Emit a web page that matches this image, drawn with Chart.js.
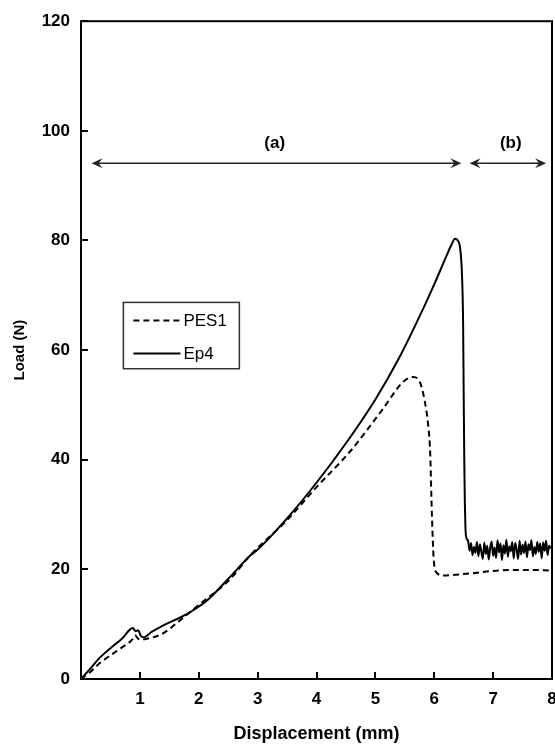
<!DOCTYPE html>
<html>
<head>
<meta charset="utf-8">
<script src="https://cdn.jsdelivr.net/npm/chart.js@4.4.0/dist/chart.umd.min.js"></script>
<style>
html, body { margin: 0; padding: 0; overflow: hidden; background: #fff; }
</style>
</head>
<body>
<canvas id="c" width="575" height="746"></canvas>
<script>
// Data (displacement in mm, load in N)
const pesX = [0, 0.15, 0.32, 0.5, 0.7, 0.88, 0.92, 0.95, 1.0, 1.1, 1.39, 1.68, 2.0, 2.53, 2.87, 3.5, 4.0, 4.57, 5.13, 5.47, 5.64, 5.75, 5.84, 5.9, 5.93, 5.96, 5.99, 6.04, 6.15, 6.55, 7.11, 7.6, 8.0];
const pesY = [0, 1.2, 2.9, 4.3, 5.8, 7.3, 8.0, 7.6, 7.2, 7.3, 8.3, 10.7, 13.5, 18.2, 22.5, 29, 35, 41.5, 49.3, 54.2, 55.1, 54.3, 50.6, 46, 41.5, 30, 22, 19.4, 18.9, 19.2, 19.8, 19.9, 19.8];

const epX = [0, 0.15, 0.32, 0.5, 0.7, 0.88, 0.93, 0.97, 1.02, 1.06, 1.2, 1.4, 1.68, 1.9, 2.14, 2.53, 2.87, 3.0, 3.5, 4.0, 4.5, 5.0, 5.4, 5.7, 6.0, 6.2, 6.3, 6.35, 6.4, 6.44, 6.47, 6.49, 6.5, 6.51, 6.52, 6.53, 6.55,
  6.575, 6.6, 6.625, 6.65, 6.675, 6.7, 6.725, 6.75, 6.775, 6.8, 6.825, 6.85, 6.875, 6.9, 6.925, 6.95, 6.975, 7.0, 7.025, 7.05,
  7.075, 7.1, 7.125, 7.15, 7.175, 7.2, 7.225, 7.25, 7.275, 7.3, 7.325, 7.35, 7.375, 7.4, 7.425, 7.45, 7.475, 7.5, 7.525, 7.55,
  7.575, 7.6, 7.625, 7.65, 7.675, 7.7, 7.725, 7.75, 7.775, 7.8, 7.825, 7.85, 7.875, 7.9, 7.925, 7.95, 7.975, 8.0];
const epY = [0, 1.8, 3.9, 5.6, 7.4, 9.3, 8.7, 8.9, 7.8, 7.6, 8.6, 9.8, 11.2, 12.5, 14.3, 18.6, 22.5, 23.6, 29.3, 35.8, 43, 51, 58.5, 65, 72, 77, 79.4, 80.3, 80, 78.5, 74, 65, 52, 40, 32, 27.5, 25.6,
  25.2, 23.4, 24.8, 22.6, 24.1, 23.0, 25.0, 22.4, 24.6, 23.2, 21.9, 24.9, 22.8, 24.3, 21.8, 23.9, 25.1, 22.5, 24.0, 22.1,
  25.3, 23.1, 24.7, 21.7, 24.4, 22.9, 25.4, 22.3, 24.2, 23.3, 25.0, 22.0, 24.8, 23.6, 21.9, 25.2, 22.7, 24.5, 23.0, 25.1,
  22.2, 24.6, 23.5, 25.3, 22.4, 24.1, 22.8, 25.0, 23.2, 24.7, 22.0, 24.9, 23.4, 25.2, 22.6, 24.3, 23.8];

const seriesNames = ["PES1", "Ep4"];
const xTicks = [1, 2, 3, 4, 5, 6, 7, 8];
const yTicks = [0, 20, 40, 60, 80, 100, 120];

const FONT = "'Liberation Sans', Arial, sans-serif";

function pts(xs, ys) {
  return xs.map((x, i) => ({ x: x, y: ys[i] }));
}

// arrowhead with a notch, pointing in direction dir (+1 right, -1 left)
function arrowHead(ctx, x, y, dir) {
  ctx.beginPath();
  ctx.moveTo(x, y);
  ctx.lineTo(x - dir * 11, y - 5);
  ctx.lineTo(x - dir * 7, y);
  ctx.lineTo(x - dir * 11, y + 5);
  ctx.closePath();
  ctx.fill();
}

function doubleArrow(ctx, x1, x2, y) {
  ctx.beginPath();
  ctx.moveTo(x1 + 4, y);
  ctx.lineTo(x2 - 4, y);
  ctx.stroke();
  arrowHead(ctx, x1, y, -1);
  arrowHead(ctx, x2, y, 1);
}

const extras = {
  id: "extras",
  afterDatasetsDraw(chart) {
    const ctx = chart.ctx;
    const a = chart.chartArea;
    const xs = chart.scales.x, ys = chart.scales.y;
    ctx.save();

    // frame
    ctx.strokeStyle = "#000";
    ctx.lineWidth = 2;
    ctx.strokeRect(a.left, a.top, a.right - a.left, a.bottom - a.top);

    // inward tick marks
    ctx.beginPath();
    xTicks.forEach(v => {
      const px = Math.round(xs.getPixelForValue(v));
      ctx.moveTo(px, a.bottom);
      ctx.lineTo(px, a.bottom - 7);
    });
    yTicks.forEach(v => {
      const py = Math.round(ys.getPixelForValue(v));
      ctx.moveTo(a.left, py);
      ctx.lineTo(a.left + 7, py);
    });
    ctx.stroke();

    // (a) / (b) region arrows
    ctx.strokeStyle = "#222";
    ctx.fillStyle = "#222";
    ctx.lineWidth = 1.6;
    const ay = ys.getPixelForValue(94.1);
    doubleArrow(ctx, xs.getPixelForValue(0.18), xs.getPixelForValue(6.46), ay);
    doubleArrow(ctx, xs.getPixelForValue(6.6), xs.getPixelForValue(7.9), ay);

    ctx.fillStyle = "#000";
    ctx.font = "bold 17px " + FONT;
    ctx.textAlign = "center";
    ctx.textBaseline = "middle";
    ctx.fillText("(a)", xs.getPixelForValue(3.29), ys.getPixelForValue(97.8));
    ctx.fillText("(b)", xs.getPixelForValue(7.3), ys.getPixelForValue(97.8));

    // legend box
    const bx1 = xs.getPixelForValue(0.72), bx2 = xs.getPixelForValue(2.69);
    const by1 = ys.getPixelForValue(68.7), by2 = ys.getPixelForValue(56.6);
    ctx.strokeStyle = "#333";
    ctx.lineWidth = 1.5;
    ctx.strokeRect(bx1, by1, bx2 - bx1, by2 - by1);

    ctx.strokeStyle = "#000";
    ctx.lineWidth = 2;
    const rows = [by1 + 18, by1 + 51];
    ctx.setLineDash([6, 4]);
    ctx.beginPath();
    ctx.moveTo(bx1 + 10, rows[0]);
    ctx.lineTo(bx1 + 58, rows[0]);
    ctx.stroke();
    ctx.setLineDash([]);
    ctx.beginPath();
    ctx.moveTo(bx1 + 10, rows[1]);
    ctx.lineTo(bx1 + 57, rows[1]);
    ctx.stroke();

    ctx.font = "17px " + FONT;
    ctx.textAlign = "left";
    ctx.fillText(seriesNames[0], bx1 + 60, rows[0] + 1);
    ctx.fillText(seriesNames[1], bx1 + 60, rows[1] + 1);

    ctx.restore();
  }
};

new Chart(document.getElementById("c"), {
  type: "line",
  data: {
    datasets: [
      {
        label: seriesNames[0],
        data: pts(pesX, pesY),
        borderColor: "#000",
        borderWidth: 2,
        borderDash: [6, 4],
        pointRadius: 0,
        cubicInterpolationMode: "monotone",
        fill: false,
      },
      {
        label: seriesNames[1],
        data: pts(epX, epY),
        borderColor: "#000",
        borderWidth: 2,
        pointRadius: 0,
        cubicInterpolationMode: "monotone",
        fill: false,
      },
    ],
  },
  options: {
    responsive: false,
    animation: false,
    devicePixelRatio: 1,
    layout: { padding: { top: 17, right: 23, left: 0, bottom: 0 } },
    plugins: {
      legend: { display: false },
      tooltip: { enabled: false },
    },
    scales: {
      x: {
        type: "linear",
        min: 0,
        max: 8,
        afterFit: (s) => { s.height = 67; },
        afterBuildTicks: (s) => { s.ticks = xTicks.map(v => ({ value: v })); },
        ticks: {
          color: "#000",
          font: { family: FONT, size: 17, weight: "bold" },
          padding: 10,
          maxRotation: 0,
        },
        grid: { display: false, drawTicks: false },
        border: { display: false },
        title: {
          display: true,
          text: "Displacement (mm)",
          color: "#000",
          font: { family: FONT, size: 18, weight: "bold" },
          padding: { top: 1, bottom: 1 },
        },
      },
      y: {
        min: 0,
        max: 120,
        afterFit: (s) => { s.width = 81; },
        afterBuildTicks: (s) => { s.ticks = yTicks.map(v => ({ value: v })); },
        ticks: {
          color: "#000",
          font: { family: FONT, size: 17, weight: "bold" },
          padding: 11,
        },
        grid: { display: false, drawTicks: false },
        border: { display: false },
        title: {
          display: true,
          text: "Load (N)",
          color: "#000",
          font: { family: FONT, size: 15, weight: "bold" },
          padding: { top: 11, bottom: 0 },
        },
      },
    },
  },
  plugins: [extras],
});
</script>
</body>
</html>
